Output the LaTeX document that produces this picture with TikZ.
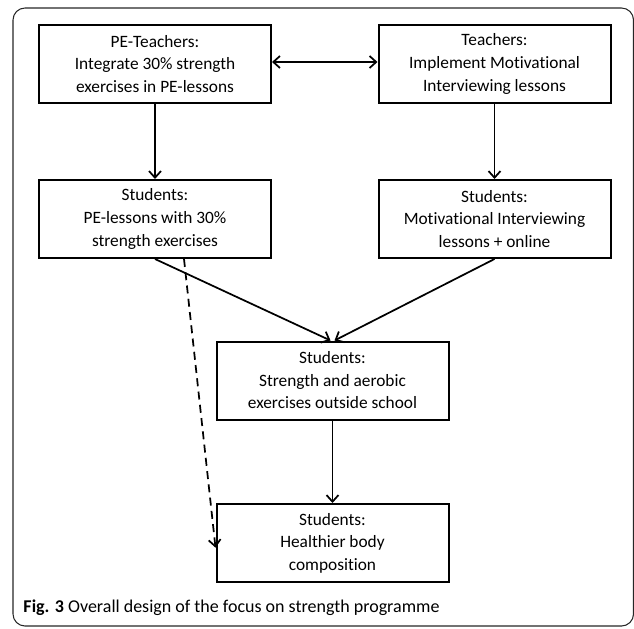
\documentclass[tikz,border=0pt]{standalone}
\usepackage{fontspec}
\setmainfont{Carlito}[Ligatures={NoCommon,NoRare}]
\usetikzlibrary{arrows.meta,calc}

\tikzset{every picture/.style={line width=0.75pt}}
\tikzset{
    stepbox/.style={draw=black, line width=1.5pt, minimum width=232*0.75pt, minimum height=78*0.75pt,
        align=center, inner sep=0pt, font=\fontsize{13}{16.9}\selectfont},
    barb/.tip={Straight Barb[length=5pt,width=9pt,line width=1.3pt]},
    flow/.style={line width=1.3pt, -barb},
    twoway/.style={line width=1.3pt, barb-barb}
}

\begin{document}
\begin{tikzpicture}[
            x=0.75pt,
            y=0.75pt,
            yscale=-1,
            xscale=1,
            every node/.style={text=black},
            line width=0.75pt
        ]
            \useasboundingbox (0,0) rectangle (634,628);
            % outer frame
            \draw [draw=black!85, line width=0.8pt, rounded corners=9] (13,8) rectangle (633.5,626);

            \node [stepbox] (peteach) at (155,64) {PE-Teachers:\\Integrate 30\% strength\\exercises in PE-lessons};
            \node [stepbox] (teach) at (494.5,64) {Teachers:\\Implement Motivational\\Interviewing lessons};
            \node [stepbox] (pestud) at (155,219) {Students:\\PE-lessons with 30\%\\strength exercises};
            \node [stepbox] (mistud) at (494.5,219) {Students:\\Motivational Interviewing\\lessons + online};
            \node [stepbox] (outside) at (332.5,380.5) {Students:\\Strength and aerobic\\exercises outside school};
            \node [stepbox] (body) at (332.5,543) {Students:\\Healthier body\\composition};

            \draw [twoway] ([yshift=-1.5pt]peteach.east) -- ([yshift=-1.5pt]teach.west);
            \draw [flow] (peteach) -- (pestud);
            \draw [flow] (teach) -- (mistud);
            \draw [flow] (pestud.south) -- ([xshift=-1.5pt]outside.north);
            \draw [flow] (mistud.south) -- ([xshift=1.5pt]outside.north);
            \draw [flow] (outside) -- (body);

            \coordinate (dstart) at ($(pestud.south)+(29,0)$);
            \draw [flow, dash pattern={on 6pt off 4pt}] (dstart) -- ([yshift=3.5pt]body.west);

            \node [anchor=west, inner sep=0pt, font=\fontsize{13.5}{16}\selectfont] (caption) at (23,608)
                {\textbf{Fig. 3} Overall design of the focus on strength programme};
        \end{tikzpicture}
\end{document}
